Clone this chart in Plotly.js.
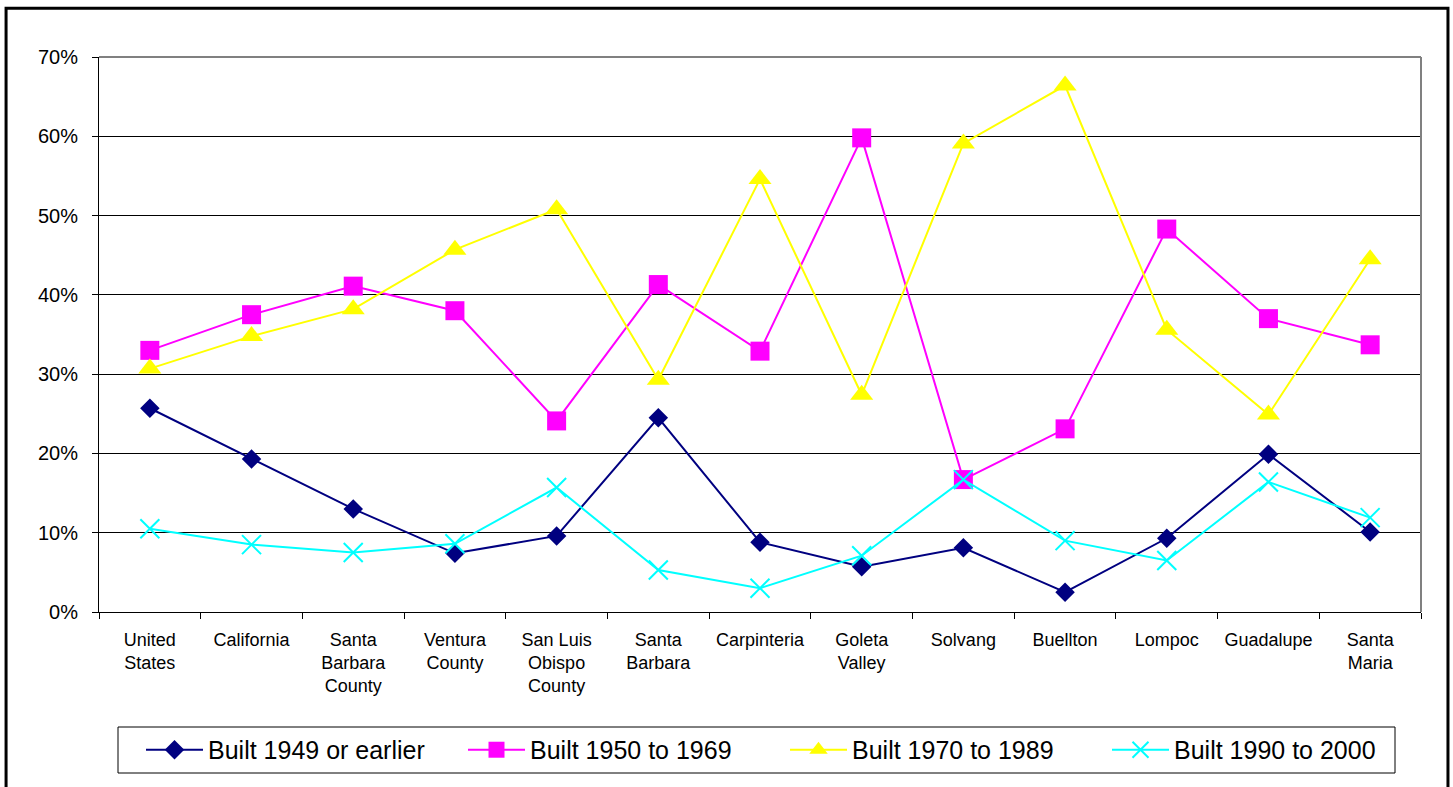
<!DOCTYPE html>
<html>
<head>
<meta charset="utf-8">
<script src="https://cdn.plot.ly/plotly-3.0.1.min.js"></script>
<style>html,body{margin:0;padding:0;background:#fff;}#chart{width:1453px;height:787px;}</style>
</head>
<body>
<div id="chart"></div>
<script>
const categories = ["United<br>States","California","Santa<br>Barbara<br>County","Ventura<br>County","San Luis<br>Obispo<br>County","Santa<br>Barbara","Carpinteria","Goleta<br>Valley","Solvang","Buellton","Lompoc","Guadalupe","Santa<br>Maria"];
const seriesNames = ["Built 1949 or earlier","Built 1950 to 1969","Built 1970 to 1989","Built 1990 to 2000"];
const built1949 = [0.257,0.193,0.130,0.074,0.096,0.245,0.088,0.057,0.081,0.025,0.093,0.199,0.101];
const built1950 = [0.330,0.375,0.411,0.380,0.241,0.413,0.329,0.598,0.167,0.231,0.483,0.370,0.337];
const built1970 = [0.307,0.348,0.382,0.457,0.508,0.293,0.546,0.274,0.591,0.664,0.356,0.249,0.445];
const built1990 = [0.105,0.085,0.075,0.086,0.157,0.053,0.030,0.071,0.167,0.090,0.065,0.164,0.119];

const traces = [
  {name:seriesNames[0], y:built1949, color:"#000080", symbol:"diamond", size:15},
  {name:seriesNames[1], y:built1950, color:"#FF00FF", symbol:"square", size:19},
  {name:seriesNames[2], y:built1970, color:"#FFFF00", symbol:"triangle-up", size:20},
  {name:seriesNames[3], y:built1990, color:"#00FFFF", symbol:"x-thin", size:19}
].map(s => ({
  type:"scatter", mode:"lines+markers", name:s.name,
  x: categories, y: s.y,
  line:{color:s.color, width:2},
  marker:{symbol:s.symbol, size:s.size, color:s.color, line:{color:s.color, width: s.symbol==="x-thin"?2:0}}
}));

const layout = {
  width:1453, height:787,
  margin:{l:99, r:32, t:57, b:175},
  paper_bgcolor:"#fff", plot_bgcolor:"#fff",
  font:{family:"Liberation Sans, Arial, sans-serif", color:"#000"},
  showlegend:true,
  xaxis:{
    type:"category", range:[-0.5, categories.length-0.5], tickson:"boundaries", ticks:"outside", ticklen:6, tickcolor:"#000", tickwidth:1,
    showline:true, linecolor:"#000", linewidth:1, showgrid:false, tickangle:0,
    tickfont:{size:18, color:"#000"}, automargin:false, ticklabelstandoff:11
  },
  yaxis:{
    range:[0,0.7], dtick:0.1, tickformat:".0%", ticks:"outside", ticklen:6, tickcolor:"#000",
    showline:true, linecolor:"#000", linewidth:1, showgrid:true, gridcolor:"#000", gridwidth:1,
    zeroline:false, tickfont:{size:20, color:"#000"}, automargin:false, ticklabelstandoff:10
  },
  legend:{
    orientation:"h", x:(141-99)/1322, y:-0.2486, xanchor:"left", yanchor:"middle",
    borderwidth:0, bgcolor:"rgba(0,0,0,0)",
    font:{size:25, color:"#000"}, entrywidth:250, entrywidthmode:"pixels", traceorder:"normal",
    itemwidth:57
  },
  shapes:[
    {type:"line", xref:"paper", yref:"paper", x0:0, x1:1, y0:1, y1:1, line:{color:"#808080", width:2}, layer:"above"},
    {type:"line", xref:"paper", yref:"paper", x0:1, x1:1, y0:0, y1:1, line:{color:"#808080", width:2}, layer:"above"},
    {type:"rect", xref:"paper", yref:"paper", x0:-0.0703, x1:1.0204, y0:-0.33, y1:1.088, line:{color:"#000", width:3}, fillcolor:"rgba(0,0,0,0)", layer:"below"},
    {type:"rect", xref:"paper", yref:"paper", x0:(118-99)/1322, x1:(1395-99)/1322, y0:(612-773)/555, y1:(612-727)/555, line:{color:"#000", width:1}, fillcolor:"rgba(0,0,0,0)", layer:"below"}
  ]
};
Plotly.newPlot("chart", traces, layout, {displayModeBar:false, staticPlot:true});
</script>
</body>
</html>
